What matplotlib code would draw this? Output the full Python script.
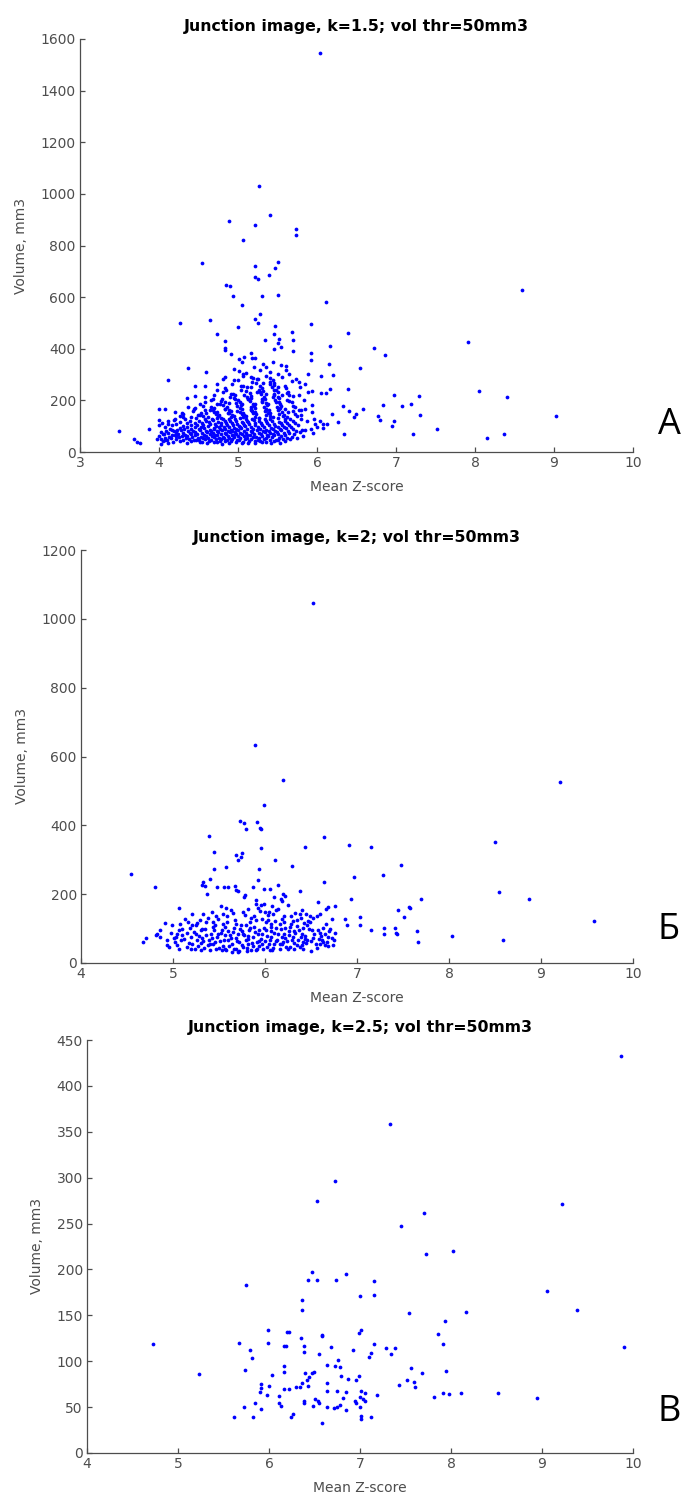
import numpy as np
import matplotlib
matplotlib.use("Agg")
import matplotlib.pyplot as plt

# k=1.5: sparse points first, then the dense low-volume core
a_points = [
    (6.04, 1544), (5.26, 1030), (5.41, 920), (4.89, 896), (5.21, 879), (5.73, 865),
    (5.74, 841), (5.06, 821), (4.54, 732), (5.51, 735), (5.22, 719), (5.47, 713),
    (5.22, 679), (5.25, 671), (5.39, 685), (4.85, 646), (4.90, 644), (8.59, 629),
    (4.94, 606), (5.30, 605), (5.51, 609), (6.12, 580), (5.05, 571), (5.28, 534),
    (5.22, 517), (5.25, 498), (4.27, 501), (4.65, 513), (5.93, 496), (5.47, 489),
    (5.00, 485), (6.39, 460), (4.73, 456), (5.46, 459), (5.68, 464), (5.34, 433),
    (4.84, 430), (7.91, 428), (5.52, 436), (5.50, 424), (5.55, 407), (5.69, 433),
    (6.16, 411), (6.72, 402), (6.86, 375), (4.84, 401), (4.83, 394), (5.45, 399),
    (5.70, 392), (5.92, 384), (5.92, 355), (6.15, 342), (4.37, 327), (6.55, 327),
    (6.20, 299), (6.05, 293), (5.89, 304), (4.12, 277), (4.60, 311), (6.39, 243),
    (5.94, 238), (6.05, 230), (6.12, 230), (6.17, 243), (8.05, 237), (6.97, 222),
    (7.29, 218), (8.41, 213), (7.19, 185), (7.08, 180), (6.83, 181), (6.33, 178),
    (9.03, 138), (6.58, 165), (6.49, 146), (6.47, 137), (6.40, 159), (6.77, 141),
    (6.80, 123), (6.98, 120), (7.31, 143), (6.95, 100), (7.52, 90), (7.21, 71),
    (8.15, 56), (8.37, 71), (6.34, 70), (6.27, 115), (6.19, 149), (6.13, 110),
    (3.49, 83), (3.68, 49), (3.72, 39), (3.76, 36), (3.87, 90), (4.00, 168),
    (4.08, 168), (4.00, 123), (4.00, 103), (4.20, 155), (4.29, 153), (4.36, 211),
    (4.46, 257), (4.58, 255), (4.46, 218), (4.74, 242), (4.81, 282), (4.83, 291),
    (5.00, 280), (5.06, 304), (5.04, 255), (5.16, 291), (5.17, 252), (5.24, 284),
    (5.32, 268), (5.46, 258), (5.51, 252), (5.56, 291), (5.61, 335), (5.74, 284),
    (5.78, 252), (5.77, 220), (5.72, 174), (5.80, 142), (5.87, 120), (5.81, 84),
    (5.94, 184), (5.96, 129), (6.00, 97), (6.07, 93), (6.04, 120), (5.97, 107),
    (6.08, 110), (5.94, 155), (5.92, 90),
    (4.91, 379), (5.01, 362), (5.08, 368), (5.16, 384), (5.18, 364), (5.22, 364),
    (5.32, 342), (5.36, 330), (5.44, 348), (5.55, 336), (5.61, 317), (5.05, 349),
    (4.95, 323), (5.01, 314), (5.10, 306), (5.20, 330), (5.28, 319), (5.41, 310),
    (5.50, 301), (5.64, 301), (5.68, 274), (5.77, 271), (5.85, 265), (5.89, 233),
    (5.83, 203), (5.70, 218), (5.62, 200), (5.56, 220), (5.52, 194), (5.44, 213),
    (5.38, 187), (5.30, 207), (5.22, 187), (5.13, 207), (5.05, 187), (4.96, 207),
    (4.88, 190), (4.80, 207), (4.73, 187), (4.66, 200), (4.58, 213), (4.52, 187),
    (4.44, 168), (4.37, 174), (4.74, 265), (4.85, 239), (4.94, 226), (5.08, 220),
    (5.24, 233), (5.36, 226), (5.45, 239), (5.63, 233), (5.85, 168), (5.80, 162),
    (5.63, 155), (5.52, 168), (5.35, 162), (5.16, 168), (4.99, 159), (4.83, 168),
    (4.69, 155), (4.58, 162), (4.49, 142), (4.30, 136), (4.19, 123), (4.11, 110),
    (4.05, 71), (4.16, 84), (4.22, 61), (4.08, 45), (3.97, 52), (4.03, 32),
    (4.12, 36), (4.35, 33), (4.52, 38), (4.61, 34), (4.74, 37), (4.80, 32),
    (4.88, 35), (4.97, 38), (5.05, 33), (5.13, 36), (5.21, 34), (5.30, 37),
    (5.42, 33), (5.53, 36),
    (4.05, 43), (4.18, 40), (4.27, 44), (4.40, 41), (4.47, 45), (4.55, 40),
    (4.63, 43), (4.69, 39), (4.77, 44), (4.84, 41), (4.91, 42), (4.99, 45),
    (5.06, 40), (5.14, 43), (5.22, 41), (5.28, 44), (5.36, 40), (5.45, 42),
    (5.51, 45), (5.60, 41),
    (4.02, 49), (4.10, 47), (4.22, 50), (4.31, 46), (4.38, 51), (4.44, 48),
    (4.51, 47), (4.58, 50), (4.66, 46), (4.72, 49), (4.79, 51), (4.86, 47),
    (4.93, 50), (5.01, 46), (5.09, 49), (5.17, 51), (5.25, 47), (5.33, 50),
    (5.40, 48), (5.48, 46), (5.57, 49), (5.66, 51),
    (4.08, 56), (4.15, 53), (4.25, 57), (4.34, 54), (4.42, 58), (4.49, 53),
    (4.56, 56), (4.62, 55), (4.70, 58), (4.76, 53), (4.82, 56), (4.89, 54),
    (4.95, 57), (5.03, 55), (5.11, 53), (5.19, 58), (5.27, 55), (5.35, 53),
    (5.43, 57), (5.52, 54), (5.62, 56), (5.75, 55),
    (4.00, 63), (4.13, 60), (4.20, 64), (4.29, 61), (4.36, 62), (4.45, 65),
    (4.53, 60), (4.60, 63), (4.67, 61), (4.74, 64), (4.81, 60), (4.87, 63),
    (4.94, 65), (5.00, 61), (5.07, 62), (5.15, 64), (5.23, 60), (5.31, 63),
    (5.38, 61), (5.46, 64), (5.55, 62), (5.68, 60), (5.82, 63),
    (4.06, 69), (4.17, 67), (4.24, 70), (4.33, 66), (4.41, 71), (4.48, 68),
    (4.57, 66), (4.64, 70), (4.71, 67), (4.78, 69), (4.85, 71), (4.92, 66),
    (4.98, 68), (5.05, 70), (5.12, 67), (5.20, 69), (5.29, 71), (5.37, 66),
    (5.44, 68), (5.51, 70), (5.59, 67), (5.71, 69),
    (4.03, 76), (4.11, 73), (4.21, 77), (4.30, 74), (4.39, 75), (4.46, 78),
    (4.54, 73), (4.61, 76), (4.68, 74), (4.75, 77), (4.83, 73), (4.90, 76),
    (4.96, 78), (5.02, 74), (5.10, 75), (5.18, 77), (5.26, 73), (5.34, 76),
    (5.41, 74), (5.49, 78), (5.58, 75), (5.65, 73), (5.79, 76), (5.95, 74),
    (4.09, 83), (4.19, 80), (4.28, 84), (4.37, 81), (4.43, 82), (4.52, 85),
    (4.59, 80), (4.66, 83), (4.73, 81), (4.80, 84), (4.87, 80), (4.93, 83),
    (5.00, 85), (5.08, 81), (5.16, 82), (5.24, 84), (5.32, 80), (5.39, 83),
    (5.47, 81), (5.54, 85), (5.63, 82), (5.74, 80),
    (4.14, 90), (4.23, 87), (4.32, 91), (4.40, 88), (4.50, 89), (4.57, 92),
    (4.64, 87), (4.70, 90), (4.77, 88), (4.84, 91), (4.91, 87), (4.97, 90),
    (5.04, 92), (5.11, 88), (5.19, 89), (5.28, 91), (5.36, 87), (5.44, 90),
    (5.53, 88), (5.61, 92), (5.70, 89), (5.85, 87),
    (4.07, 97), (4.26, 94), (4.35, 98), (4.45, 95), (4.53, 96), (4.62, 99),
    (4.69, 94), (4.76, 97), (4.82, 95), (4.89, 98), (4.95, 94), (5.02, 97),
    (5.09, 99), (5.17, 95), (5.25, 96), (5.33, 98), (5.42, 94), (5.50, 97),
    (5.58, 95), (5.67, 98),
    (4.16, 105), (4.30, 102), (4.41, 106), (4.48, 103), (4.56, 104), (4.65, 107),
    (4.72, 102), (4.79, 105), (4.86, 103), (4.94, 106), (5.01, 102), (5.07, 105),
    (5.14, 107), (5.22, 103), (5.30, 104), (5.39, 106), (5.47, 102), (5.56, 105),
    (5.64, 103), (5.76, 106),
    (4.04, 113), (4.22, 110), (4.36, 114), (4.46, 111), (4.55, 112), (4.63, 115),
    (4.71, 110), (4.78, 113), (4.85, 111), (4.92, 114), (4.99, 110), (5.06, 113),
    (5.13, 115), (5.21, 111), (5.29, 112), (5.37, 114), (5.46, 110), (5.54, 113),
    (5.62, 111), (5.72, 114),
    (4.12, 121), (4.27, 118), (4.39, 122), (4.51, 119), (4.60, 120), (4.68, 123),
    (4.75, 118), (4.83, 121), (4.90, 119), (4.98, 122), (5.05, 118), (5.12, 121),
    (5.20, 123), (5.27, 119), (5.35, 120), (5.43, 122), (5.52, 118), (5.60, 121),
    (5.69, 119),
    (4.20, 129), (4.33, 126), (4.47, 130), (4.58, 127), (4.67, 128), (4.74, 131),
    (4.81, 126), (4.88, 129), (4.96, 127), (5.03, 130), (5.10, 126), (5.18, 129),
    (5.26, 131), (5.34, 127), (5.41, 128), (5.50, 130), (5.59, 126), (5.66, 129),
    (5.80, 127),
    (4.27, 138), (4.40, 134), (4.56, 141), (4.62, 135), (4.75, 139), (4.79, 133),
    (4.91, 137), (4.95, 141), (5.06, 134), (5.10, 140), (5.22, 136), (5.26, 133),
    (5.40, 139), (5.44, 135), (5.57, 141), (5.62, 136), (5.75, 138),
    (4.31, 149), (4.52, 143), (4.59, 150), (4.72, 146), (4.76, 143), (4.89, 151),
    (4.93, 145), (5.05, 148), (5.08, 143), (5.19, 150), (5.23, 146), (5.36, 144),
    (5.40, 151), (5.52, 147), (5.58, 143), (5.72, 149),
    (4.43, 158), (4.53, 153), (4.68, 161), (4.74, 155), (4.87, 152), (4.91, 160),
    (5.03, 156), (5.06, 152), (5.18, 159), (5.21, 154), (5.34, 157), (5.38, 152),
    (5.50, 161), (5.56, 155), (5.70, 158),
    (4.45, 169), (4.65, 163), (4.70, 171), (4.84, 166), (4.89, 162), (5.02, 170),
    (5.05, 165), (5.17, 162), (5.22, 169), (5.35, 166), (5.39, 162), (5.53, 170),
    (5.60, 166), (5.77, 163),
    (4.56, 180), (4.66, 173), (4.81, 182), (4.86, 175), (4.99, 178), (5.04, 184),
    (5.16, 174), (5.20, 179), (5.33, 176), (5.37, 183), (5.49, 174), (5.55, 180),
    (5.69, 177),
    (4.58, 193), (4.77, 186), (4.84, 195), (4.97, 188), (5.02, 192), (5.15, 197),
    (5.19, 186), (5.31, 194), (5.35, 188), (5.48, 195), (5.53, 186), (5.68, 192),
    (4.68, 206), (4.78, 199), (4.95, 208), (5.00, 200), (5.13, 204), (5.17, 210),
    (5.30, 199), (5.34, 206), (5.47, 201), (5.52, 208), (5.65, 199),
    (4.69, 220), (4.90, 212), (4.96, 222), (5.11, 214), (5.16, 218), (5.29, 224),
    (5.33, 212), (5.46, 219), (5.51, 213), (5.64, 221),
    (4.81, 234), (4.91, 226), (5.10, 236), (5.15, 227), (5.28, 232), (5.32, 238),
    (5.45, 226), (5.50, 233), (5.62, 228),
    (4.84, 249), (5.04, 241), (5.11, 251), (5.26, 242), (5.30, 247), (5.43, 253),
    (5.48, 241), (5.61, 248),
    (4.93, 264), (5.06, 256), (5.23, 266), (5.28, 257), (5.41, 262), (5.46, 268),
    (5.59, 256),
    (4.95, 279), (5.18, 271), (5.25, 281), (5.40, 272), (5.44, 277),
    (5.06, 294), (5.19, 286), (5.36, 296), (5.41, 287),
]

# k=2
b_points = [
    (6.52, 1047), (5.89, 634), (6.20, 533), (9.21, 525), (5.99, 460), (5.73, 413),
    (5.77, 407), (5.91, 410), (5.79, 390), (5.95, 391), (5.96, 388), (5.39, 369),
    (6.64, 366), (8.50, 352), (6.91, 344), (6.44, 337), (7.15, 337), (5.96, 335),
    (5.45, 323), (5.75, 321), (5.69, 313), (5.74, 308), (5.71, 300), (6.11, 300),
    (7.48, 286), (6.29, 282), (5.58, 279), (5.94, 272), (5.45, 273), (4.54, 259),
    (7.28, 257), (6.97, 250), (5.40, 243), (5.92, 242), (5.33, 235), (6.64, 234),
    (5.31, 228), (6.14, 228), (4.80, 221), (5.35, 223), (5.48, 222), (5.55, 222),
    (5.60, 221), (5.67, 223), (5.87, 221), (5.69, 211), (5.71, 209), (5.99, 216),
    (6.05, 214), (6.38, 208), (5.78, 197), (5.77, 192), (5.37, 200), (8.54, 205),
    (6.20, 200), (6.22, 195), (6.17, 186), (6.19, 180), (6.10, 192), (5.90, 182),
    (6.93, 187), (7.70, 186), (8.87, 185), (5.06, 161), (5.52, 166), (5.90, 171),
    (5.92, 161), (5.96, 168), (5.99, 171), (6.12, 155), (6.14, 156), (6.25, 168),
    (6.58, 177), (6.76, 167), (6.66, 158), (6.68, 163), (7.45, 155), (7.56, 164),
    (7.58, 161), (7.51, 134), (5.33, 141), (5.42, 147), (5.54, 143), (5.59, 137),
    (5.38, 132), (5.36, 119), (5.21, 110), (5.25, 110), (5.08, 113), (4.91, 116),
    (5.44, 104), (5.46, 110), (5.67, 126), (5.69, 113), (5.78, 139), (5.88, 136),
    (5.90, 126), (5.97, 129), (6.03, 139), (6.03, 125), (6.01, 118), (6.21, 136),
    (6.33, 145), (6.38, 142), (6.45, 143), (6.49, 136), (6.35, 124), (6.47, 122),
    (6.49, 119), (6.56, 137), (6.60, 142), (6.87, 127), (6.89, 110), (7.03, 134),
    (7.03, 110), (7.15, 97), (7.29, 102), (7.29, 84), (7.41, 103), (7.42, 88),
    (7.43, 85), (7.65, 93), (7.66, 60), (8.03, 78), (8.59, 66), (9.58, 123),
    (6.76, 88), (6.65, 84), (6.61, 79), (6.59, 71), (6.74, 53), (6.65, 52),
    (6.50, 64), (6.50, 35), (6.41, 40), (6.40, 51), (6.44, 79), (6.40, 85),
    (6.35, 107), (6.41, 102), (6.26, 92), (6.22, 103), (6.16, 112), (6.12, 101),
    (6.10, 87), (6.07, 76), (6.05, 66), (6.10, 56), (6.00, 63), (5.97, 83),
    (5.94, 97), (5.88, 105), (5.83, 95), (5.79, 109), (5.75, 94), (5.71, 85),
    (5.66, 103), (5.60, 92), (5.57, 80), (5.53, 95), (5.49, 85), (5.45, 95),
    (5.41, 85), (5.36, 80), (5.30, 95), (5.25, 85), (5.20, 76), (5.15, 87),
    (5.10, 98), (5.04, 85), (5.01, 74), (4.98, 88), (4.94, 66), (4.93, 53),
    (4.86, 76), (4.82, 80), (4.71, 73), (4.67, 61), (5.04, 53), (5.09, 66),
    (5.15, 47), (5.21, 56), (5.24, 42), (5.30, 58), (5.34, 45), (5.39, 68),
    (5.43, 54), (5.47, 41), (5.51, 64), (5.54, 50), (5.58, 37), (5.60, 66),
    (5.64, 56), (5.66, 42), (5.69, 74), (5.72, 61), (5.71, 32), (5.76, 47),
    (5.79, 68), (5.82, 56), (5.85, 39), (5.87, 76), (5.91, 61), (5.93, 48),
    (5.96, 70), (6.02, 47), (6.13, 68), (6.16, 56), (6.19, 76), (6.24, 64),
    (6.27, 47), (6.30, 76), (6.32, 58), (6.36, 68), (6.32, 42), (6.53, 85),
    (6.55, 56), (6.58, 95), (6.62, 66), (6.63, 103), (6.69, 76), (6.71, 100),
    (6.46, 110), (6.28, 114), (6.21, 119), (6.11, 122), (6.06, 112), (5.84, 119),
    (5.74, 110), (5.59, 119), (5.54, 112), (5.49, 129), (5.29, 124), (5.16, 119),
    (4.99, 110), (4.86, 95), (5.21, 143), (5.63, 153), (5.76, 148), (5.95, 151),
    (6.04, 148), (6.09, 143), (6.28, 136), (6.39, 132), (6.42, 116), (6.66, 114),
    (6.73, 129), (6.39, 76), (6.46, 66), (6.41, 61), (6.23, 47), (6.16, 42),
    (6.08, 37), (5.98, 41), (5.90, 37), (5.80, 35), (5.64, 32), (5.53, 37),
    (5.40, 37), (5.30, 39), (5.20, 41), (5.07, 42), (4.96, 47), (4.83, 85),
    (5.03, 76), (5.10, 80), (5.26, 68), (5.31, 74), (5.48, 76), (5.62, 80),
    (5.76, 85), (5.81, 79), (5.92, 85), (6.01, 95), (6.06, 105), (6.21, 85),
    (6.26, 80), (6.31, 93), (6.51, 95), (6.75, 66), (6.60, 56), (6.67, 60),
    (6.69, 48),
    (5.02, 62), (5.07, 95), (5.12, 71), (5.17, 58), (5.19, 102), (5.23, 90),
    (5.27, 49), (5.28, 77), (5.33, 63), (5.35, 98), (5.38, 52), (5.42, 72),
    (5.44, 118), (5.46, 61), (5.50, 45), (5.52, 88), (5.55, 67), (5.57, 104),
    (5.61, 50), (5.63, 73), (5.65, 90), (5.68, 40), (5.70, 63), (5.73, 99),
    (5.75, 52), (5.77, 80), (5.80, 44), (5.82, 71), (5.84, 101), (5.86, 58),
    (5.89, 89), (5.91, 42), (5.94, 65), (5.97, 55), (5.99, 102), (6.02, 78),
    (6.04, 54), (6.07, 93), (6.09, 45), (6.12, 63), (6.14, 85), (6.17, 98),
    (6.19, 55), (6.22, 72), (6.25, 40), (6.27, 105), (6.29, 66), (6.33, 88),
    (6.35, 52), (6.37, 96), (6.43, 70), (6.45, 57), (6.48, 100), (6.52, 74),
    (6.56, 45), (6.60, 88), (6.63, 61), (6.70, 92), (6.73, 72), (5.13, 128),
    (5.26, 115), (5.47, 137), (5.65, 146), (5.85, 130), (6.00, 148), (6.18, 128),
    (6.30, 122), (6.52, 130), (5.58, 160), (5.82, 158), (6.08, 165), (6.40, 155),
    (5.31, 100), (5.40, 56), (5.56, 40), (5.72, 35), (5.87, 48), (6.05, 38),
    (6.20, 61), (6.38, 47),
]

# k=2.5
c_points = [
    (9.87, 433), (7.33, 359), (6.73, 296), (6.53, 275), (9.22, 271), (7.70, 261),
    (7.45, 247), (7.72, 217), (8.02, 220), (5.75, 183), (6.47, 197), (6.43, 188),
    (6.53, 188), (6.74, 188), (6.85, 195), (7.15, 187), (7.00, 171), (7.15, 172),
    (9.05, 177), (6.36, 167), (6.36, 156), (7.54, 153), (8.16, 154), (9.38, 156),
    (7.93, 144), (7.86, 130), (5.99, 134), (6.20, 132), (6.22, 132), (6.58, 129),
    (6.58, 127), (7.01, 134), (6.99, 131), (5.67, 120), (5.99, 120), (6.17, 117),
    (6.19, 117), (6.35, 125), (6.39, 117), (6.39, 110), (7.15, 119), (7.91, 119),
    (7.29, 114), (7.39, 114), (7.34, 108), (7.12, 109), (7.10, 105), (6.92, 112),
    (6.68, 116), (9.90, 116), (4.72, 119), (5.79, 112), (5.81, 104), (5.74, 90),
    (5.23, 86), (6.16, 95), (6.17, 88), (6.55, 108), (6.64, 96), (6.73, 95),
    (6.76, 101), (6.78, 94), (6.40, 87), (6.47, 87), (6.49, 88), (7.56, 93),
    (7.68, 87), (7.94, 89), (7.52, 80), (7.59, 77), (7.60, 72), (7.43, 74),
    (6.03, 85), (5.91, 75), (5.91, 71), (6.00, 73), (6.17, 70), (6.22, 70),
    (6.30, 72), (6.34, 72), (6.36, 76), (6.42, 80), (6.44, 83), (6.43, 73),
    (6.64, 76), (6.64, 68), (6.75, 68), (6.79, 84), (6.87, 81), (6.96, 79),
    (6.99, 84), (6.85, 67), (7.01, 68), (7.06, 65), (7.19, 63), (7.81, 61),
    (7.91, 65), (7.98, 64), (8.11, 65), (8.52, 65), (8.95, 60), (5.90, 66),
    (5.98, 63), (6.11, 62), (6.39, 57), (6.39, 54), (6.51, 59), (6.54, 57),
    (6.55, 55), (6.81, 60), (6.95, 57), (6.96, 55), (7.00, 61), (7.03, 59),
    (7.05, 57), (5.85, 55), (5.73, 50), (5.91, 48), (6.11, 54), (6.13, 51),
    (6.48, 51), (6.64, 50), (6.71, 49), (6.75, 50), (6.78, 52), (6.85, 47),
    (7.00, 50), (6.26, 43), (6.24, 39), (5.62, 39), (5.82, 39), (6.58, 33),
    (7.01, 40), (7.01, 37), (7.12, 39),
]

panels = [
    # title, points, x range, y ticks, axes rect, letter, letter y
    ("Junction image, k=1.5; vol thr=50mm3", a_points, (3, 10), np.arange(0, 1601, 200),
     [80 / 684, 1 - 452 / 1495, 553 / 684, 413 / 1495], "А", 1 - 425 / 1495),
    ("Junction image, k=2; vol thr=50mm3", b_points, (4, 10), np.arange(0, 1201, 200),
     [81 / 684, 1 - 963 / 1495, 552 / 684, 413 / 1495], "Б", 1 - 930 / 1495),
    ("Junction image, k=2.5; vol thr=50mm3", c_points, (4, 10), np.arange(0, 451, 50),
     [87 / 684, 1 - 1453 / 1495, 546 / 684, 413 / 1495], "В", 1 - 1412 / 1495),
]

axis_grey = "#4d4d4d"

fig = plt.figure(figsize=(6.84, 14.95), dpi=100)
fig.patch.set_facecolor("white")

for title, pts, xr, yticks, rect, letter, ly in panels:
    ax = fig.add_axes(rect)
    xs = np.array([p[0] for p in pts])
    ys = np.array([p[1] for p in pts])
    ax.plot(xs, ys, "o", color="#0000ff", markersize=2.7, markeredgewidth=0)
    ax.set_xlim(*xr)
    ax.set_ylim(yticks[0], yticks[-1])
    ax.set_xticks(np.arange(xr[0], xr[1] + 1))
    ax.set_yticks(yticks)
    for s in ("top", "right"):
        ax.spines[s].set_visible(False)
    for s in ("left", "bottom"):
        ax.spines[s].set_color(axis_grey)
        ax.spines[s].set_linewidth(0.9)
    ax.tick_params(direction="in", length=3.5, width=0.9, colors=axis_grey,
                   labelsize=10, pad=3)
    ax.set_title(title, fontsize=11.3, fontweight="bold", color="black", pad=6)
    ax.set_xlabel("Mean Z-score", fontsize=10, color=axis_grey, labelpad=7)
    ax.set_ylabel("Volume, mm3", fontsize=10, color=axis_grey, labelpad=9)
    fig.text(0.978, ly, letter, fontsize=26, ha="center", va="center",
             family="Open Sans", color="black")

fig.savefig("out.png", dpi=100, facecolor="white")
